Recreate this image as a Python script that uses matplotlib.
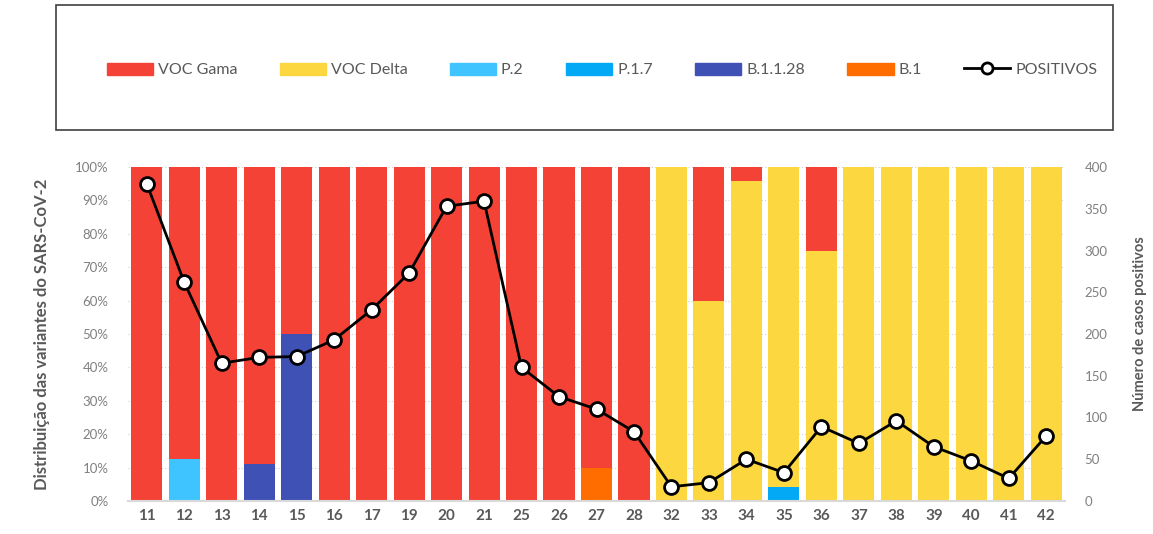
import matplotlib
matplotlib.use("Agg")
import matplotlib.pyplot as plt
from matplotlib.patches import Rectangle
from matplotlib.lines import Line2D
import numpy as np

plt.rcParams['font.family'] = ['Lato', 'DejaVu Sans']

weeks = ['11', '12', '13', '14', '15', '16', '17', '19', '20', '21', '25', '26', '27', '28',
         '32', '33', '34', '35', '36', '37', '38', '39', '40', '41', '42']

voc_gama = [100, 87.5, 100, 88.9, 50, 100, 100, 100, 100, 100, 100, 100, 90, 100,
            0, 40, 4.1, 0, 25, 0, 0, 0, 0, 0, 0]
voc_delta = [0, 0, 0, 0, 0, 0, 0, 0, 0, 0, 0, 0, 0, 0,
             100, 60, 95.9, 95.7, 75, 100, 100, 100, 100, 100, 100]
p2 = [0, 12.5, 0, 0, 0, 0, 0, 0, 0, 0, 0, 0, 0, 0,
      0, 0, 0, 0, 0, 0, 0, 0, 0, 0, 0]
p17 = [0, 0, 0, 0, 0, 0, 0, 0, 0, 0, 0, 0, 0, 0,
       0, 0, 0, 4.3, 0, 0, 0, 0, 0, 0, 0]
b1128 = [0, 0, 0, 11.1, 50, 0, 0, 0, 0, 0, 0, 0, 0, 0,
         0, 0, 0, 0, 0, 0, 0, 0, 0, 0, 0]
b1 = [0, 0, 0, 0, 0, 0, 0, 0, 0, 0, 0, 0, 10, 0,
      0, 0, 0, 0, 0, 0, 0, 0, 0, 0, 0]
positivos = [380, 262, 165, 172, 173, 193, 229, 273, 353, 359, 160, 125, 110, 83,
             17, 22, 50, 34, 89, 69, 96, 65, 48, 27, 78]

series = [
    ('P.2', p2, '#40C4FF'),
    ('P.1.7', p17, '#03A9F4'),
    ('B.1.1.28', b1128, '#3F51B5'),
    ('B.1', b1, '#FF6D00'),
    ('VOC Delta', voc_delta, '#FDD73F'),
    ('VOC Gama', voc_gama, '#F44336'),
]
colors = {name: c for name, _, c in series}

W, H = 1153, 534
fig = plt.figure(figsize=(W / 100, H / 100), dpi=100)
ax = fig.add_axes([128 / W, 1 - 501 / H, (1065 - 128) / W, (501 - 167) / H])

x = np.arange(len(weeks))
bottom = np.zeros(len(weeks))
for name, vals, c in series:
    v = np.array(vals, dtype=float)
    ax.bar(x, v, 0.83, bottom=bottom, color=c, zorder=2, linewidth=0)
    bottom += v

ax.set_xlim(-0.5, len(weeks) - 0.5)
ax.set_ylim(0, 100)
ax.set_yticks(np.arange(0, 101, 10))
ax.set_yticklabels([f'{v}%' for v in range(0, 101, 10)])
ax.set_xticks(x)
ax.set_xticklabels(weeks, fontweight='bold', color='#595959', fontsize=11)
ax.tick_params(axis='y', colors='#808080', labelsize=9.5, length=0, pad=14)
ax.tick_params(axis='x', length=0, pad=6)
ax.yaxis.grid(True, linestyle=(0, (1, 2)), color='#D0D0D0', linewidth=0.8, zorder=0)
for s in ['top', 'right', 'left']:
    ax.spines[s].set_visible(False)
ax.spines['bottom'].set_color('#D9D9D9')
ax.spines['bottom'].set_linewidth(1.5)
ax.set_ylabel('Distribuição das variantes do SARS-CoV-2', fontweight='bold',
              color='#595959', fontsize=12, labelpad=18)

ax2 = ax.twinx()
ax2.set_ylim(0, 400)
ax2.set_yticks(np.arange(0, 401, 50))
ax2.tick_params(axis='y', colors='#808080', labelsize=9.5, length=0, pad=14)
for s in ['top', 'right', 'left', 'bottom']:
    ax2.spines[s].set_visible(False)
ax2.plot(x, positivos, color='black', linewidth=2, marker='o', markersize=10,
         markerfacecolor='white', markeredgecolor='black', markeredgewidth=2, zorder=5)
ax2.set_ylabel('Número de casos positivos', fontweight='bold', color='#595959',
               fontsize=10.5, labelpad=20)
ax2.yaxis.set_label_coords(1 + (1139 - 1065) / (1065 - 128) - 0.006, 0.53)

# legend box
fig.patches.append(Rectangle((56 / W, 1 - 130 / H), (1113 - 56) / W, 125 / H,
                             transform=fig.transFigure, fill=False,
                             edgecolor='#404040', linewidth=1.2))
order = ['VOC Gama', 'VOC Delta', 'P.2', 'P.1.7', 'B.1.1.28', 'B.1']
handles = [Rectangle((0, 0), 1, 1, color=colors[n]) for n in order]
handles.append(Line2D([0], [0], color='black', linewidth=2, marker='o', markersize=8,
                      markerfacecolor='white', markeredgecolor='black', markeredgewidth=2))
labels = order + ['POSITIVOS']
leg = fig.legend(handles, labels, loc='center', ncol=7, frameon=False,
                 bbox_to_anchor=(602 / W, 1 - 70 / H), fontsize=11.5, handlelength=2.9,
                 handleheight=0.8, handletextpad=0.3, columnspacing=2.65,
                 labelcolor='#595959')

fig.savefig('out.png', dpi=100)
